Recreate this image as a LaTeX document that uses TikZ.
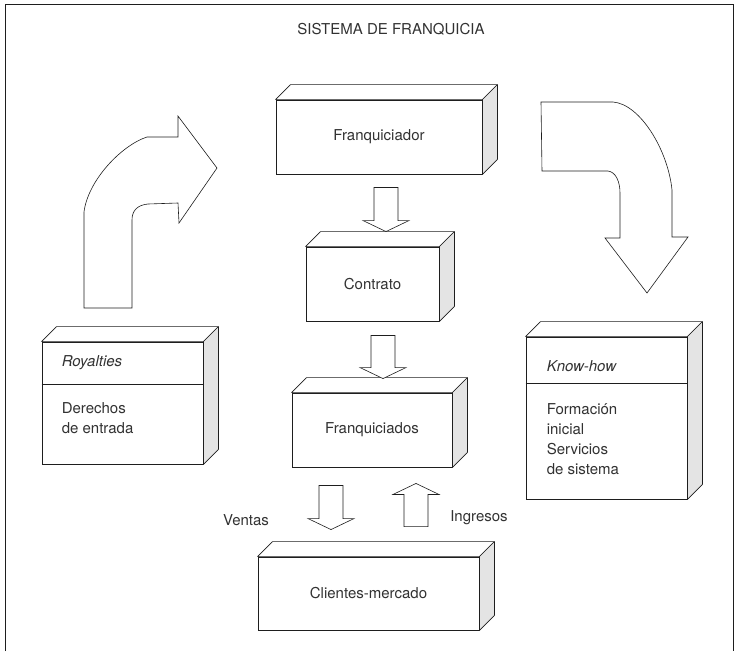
\documentclass[tikz,border=0pt]{standalone}
\usepackage{fontspec}
\setmainfont{TeX Gyre Heros}
\usepackage{tikz}
\usetikzlibrary{calc}
\definecolor{boxline}{RGB}{30, 30, 30}
\definecolor{boxside}{RGB}{228, 228, 228}
\definecolor{txtgray}{RGB}{50, 50, 50}

\tikzset{
  cube/.style={draw=boxline, line width=0.9pt, fill=white, inner sep=0pt,
    text=txtgray, font=\fontsize{15}{20}\selectfont},
  face/.style={draw=boxline, line width=0.6pt, line join=round},
  fat/.style={draw=boxline, line width=0.6pt, fill=white},
  lbl/.style={text=txtgray, font=\fontsize{15}{20}\selectfont, inner sep=0pt}
}

% top and side of a box node
\newcommand{\boxdepth}[1]{%
  \draw[face, fill=white] (#1.north west) -- ++(15,-15) -- ($(#1.north east)+(15,-15)$) -- (#1.north east) -- cycle;
  \draw[face, fill=boxside] (#1.north east) -- ++(15,-15) -- ($(#1.south east)+(15,-15)$) -- (#1.south east) -- cycle;}

% hollow block arrow from #1 to #2
\newcommand{\fatarrow}[2]{%
  \coordinate (hb) at ($(#2)!11pt!(#1)$);
  \draw[fat] ($(#1)!12pt!90:(#2)$) -- ($(hb)!12pt!-90:(#1)$) -- ($(hb)!23pt!-90:(#1)$) -- (#2)
    -- ($(hb)!23pt!90:(#1)$) -- ($(hb)!12pt!90:(#1)$) -- ($(#1)!12pt!-90:(#2)$) -- cycle;}

\begin{document}
\begin{tikzpicture}[x=1pt, y=-1pt]
\useasboundingbox (0,0) rectangle (739,651);
\draw[boxline, line width=0.8pt] (5,651) -- (5,4) -- (733,4) -- (733,651);

\node[lbl] (title) at (391,29) {SISTEMA DE FRANQUICIA};

% central boxes
\node[cube, minimum width=206, minimum height=74] (fq) at (379,137) {Franquiciador};
\boxdepth{fq}
\node[cube, minimum width=133, minimum height=74] (ct) at (372.5,284) {Contrato};
\boxdepth{ct}
\node[cube, minimum width=160, minimum height=74] (fd) at (372,430) {Franquiciados};
\boxdepth{fd}
\node[cube, minimum width=221, minimum height=73] (cm) at (368.5,593.5) {Clientes-mercado};
\boxdepth{cm}

% side boxes
\node[cube, minimum width=161, minimum height=122] (roy) at (122.5,403) {};
\boxdepth{roy}
\draw[face] ($(roy.north west)+(0,43)$) -- ($(roy.north east)+(0,43)$);
\node[lbl, anchor=west] (royhead) at ($(roy.north west)+(20,21)$) {\itshape Royalties};
\node[lbl, anchor=north west, align=left] (roybody) at ($(roy.north west)+(20,61)$) {Derechos\\de entrada};

\node[cube, minimum width=161, minimum height=162] (kh) at (606.5,418) {};
\boxdepth{kh}
\draw[face] ($(kh.north west)+(0,47)$) -- ($(kh.north east)+(0,47)$);
\node[lbl, anchor=west] (khhead) at ($(kh.north west)+(21,30)$) {\itshape Know-how};
\node[lbl, anchor=north west, align=left] (khbody) at ($(kh.north west)+(21,67)$) {Formación\\inicial\\Servicios\\de sistema};

% block arrows
\coordinate (a1s) at ($(fq.south)+(7,13)$);
\coordinate (a1e) at ($(ct.north)+(13.5,-15)$);
\fatarrow{a1s}{a1e}
\coordinate (a2s) at ($(ct.south)+(10.5,14)$);
\coordinate (a2e) at ($(fd.north)+(11,-14)$);
\fatarrow{a2s}{a2e}
\coordinate (a3s) at ($(fd.south)+(-41,18)$);
\coordinate (a3e) at ($(cm.north)+(-37.5,-27)$);
\fatarrow{a3s}{a3e}
\coordinate (a4s) at ($(cm.north)+(47.5,-30)$);
\coordinate (a4e) at ($(fd.south)+(44,16)$);
\fatarrow{a4s}{a4e}

\node[lbl] (ventas) at (246,520) {Ventas};
\node[lbl] (ingresos) at (479,518) {Ingresos};

% curved arrows
\draw[fat] (84,308) -- (132,308) -- (132,220) .. controls (132,210) and (138,205) .. (148,204)
  -- (178,203) -- (179,223) -- (217,168) -- (178,116) -- (178,137) -- (147,137)
  .. controls (122,145) and (88,180) .. (84,212) -- cycle;
\draw[fat] (541,102) -- (613,102) .. controls (640,104) and (668,150) .. (672,190)
  -- (672,237) -- (688,237) -- (647,293) -- (605,238) -- (620,238) -- (620,193)
  .. controls (620,182) and (616,172) .. (608,171) -- (542,171) -- cycle;
\end{tikzpicture}
\end{document}
